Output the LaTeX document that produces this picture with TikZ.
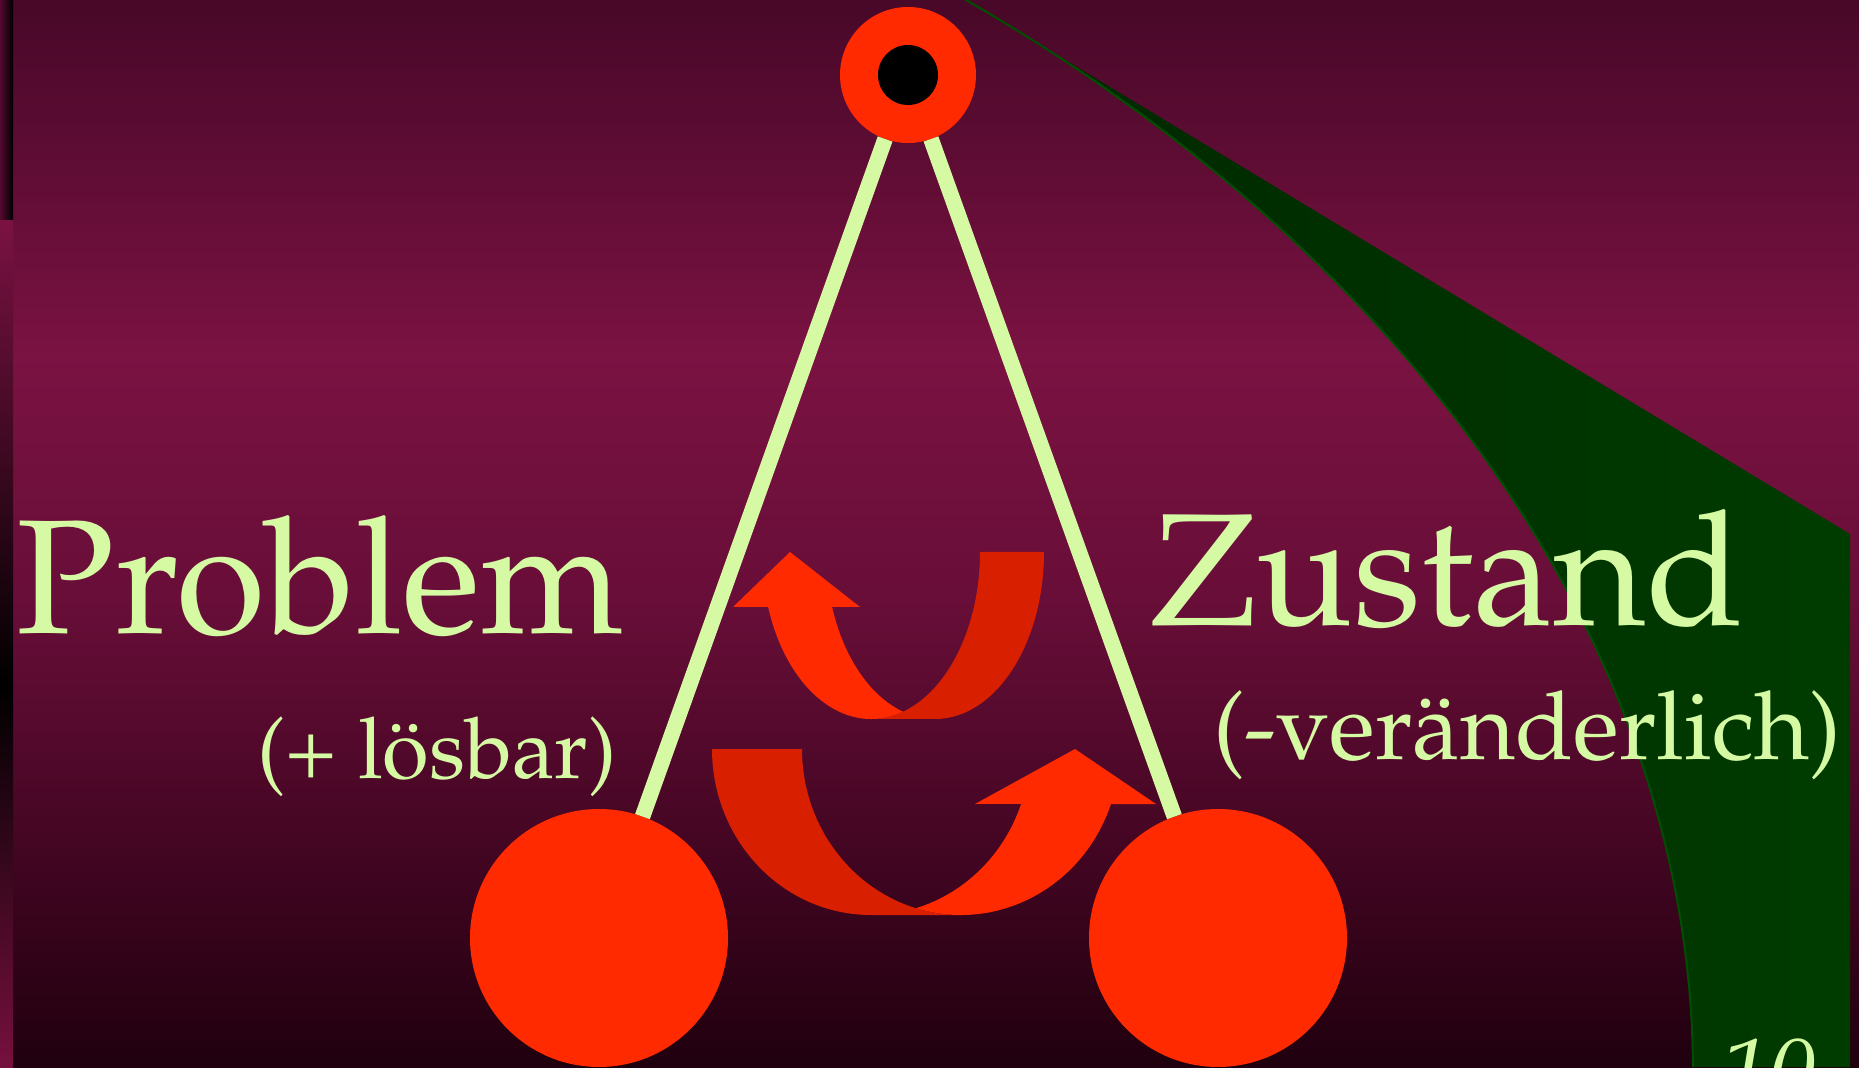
\documentclass[tikz,border=0pt]{standalone}
\usepackage[T1]{fontenc}
\renewcommand{\rmdefault}{ppl}
\definecolor{bgA}{RGB}{72,8,40}
\definecolor{bgB}{RGB}{122,18,66}
\definecolor{bgC}{RGB}{104,14,56}
\definecolor{bgD}{RGB}{70,6,36}
\definecolor{bgE}{RGB}{32,0,14}
\definecolor{stripA}{RGB}{84,10,46}
\definecolor{stripB}{RGB}{118,16,62}
\definecolor{grnA}{RGB}{0,38,0}
\definecolor{grnB}{RGB}{0,60,0}
\definecolor{grnEdge}{RGB}{0,78,0}
\definecolor{redA}{RGB}{255,42,0}
\definecolor{redB}{RGB}{216,32,0}
\definecolor{lgreen}{RGB}{214,250,164}
\tikzset{
  ball/.style={circle, fill=redA, inner sep=0pt, outer sep=0pt},
  stick/.style={draw=lgreen, line width=7.8pt},
  txt/.style={text=lgreen, inner sep=0pt, outer sep=0pt, anchor=base west}
}
\begin{document}
\begin{tikzpicture}[x=0.5pt,y=0.5pt]
\useasboundingbox (0,0) rectangle (1859,1067);
\clip (0,0) rectangle (1859,1067);
% background gradient
\shade[top color=bgA, bottom color=bgB] (0,711) rectangle (1859,1067);
\shade[top color=bgB, bottom color=bgC] (0,466.5) rectangle (1859,711.5);
\shade[top color=bgC, bottom color=bgD] (0,236.5) rectangle (1859,467);
\shade[top color=bgD, bottom color=bgE] (0,0) rectangle (1859,237);
% left strip
\shade[left color=stripA, right color=black] (0,846) rectangle (13,1067);
\shade[top color=bgB, bottom color=black] (0,380) rectangle (13,846);
\shade[top color=black, bottom color=stripB] (0,0) rectangle (13,380);
% green shape
\shade[left color=grnA, right color=grnB]
  (966,1067) -- (1850,533) -- (1850,0) -- (1693,0)
  .. controls (1690,427) and (1400,817) .. (966,1067) -- cycle;
\draw[grnEdge, line width=1pt] (1693,0) .. controls (1690,427) and (1400,817) .. (966,1067);
% circles
\node[ball, minimum size=68pt] (top) at (908,992) {};
\node[circle, fill=black, inner sep=0pt, minimum size=30pt] (eye) at (top.center) {};
\node[ball, minimum size=129pt] (pl) at (599,129) {};
\node[ball, minimum size=129pt] (pr) at (1218,129) {};
% sticks
\draw[stick] (top) -- (pl);
\draw[stick] (top) -- (pr);
% upper U-turn arrow
\fill[redB] (1044,515) arc[start angle=0,end angle=-90,x radius=109,y radius=167]
  -- (871,348) arc[start angle=-90,end angle=0,x radius=109,y radius=167] -- cycle;
\fill[redA] (902.9,355.3) arc[start angle=287,end angle=199.2,x radius=109,y radius=167]
  -- (733,460) -- (790,515) -- (860,460) -- (832.1,460)
  arc[start angle=199.2,end angle=253,x radius=109,y radius=167] -- cycle;
% lower U-turn arrow
\fill[redB] (712,318) arc[start angle=180,end angle=270,x radius=159,y radius=166]
  -- (961,152) arc[start angle=270,end angle=180,x radius=159,y radius=166] -- cycle;
\fill[redA] (916,158.8) arc[start angle=286.4,end angle=340.65,x radius=159,y radius=166]
  -- (975,263) -- (1075,318) -- (1156,263) -- (1111,263)
  arc[start angle=340.65,end angle=253.6,x radius=159,y radius=166] -- cycle;
% texts
\node[txt, font=\fontsize{81.3}{90}\selectfont] (problem) at (17,433) {Problem};
\node[txt, font=\fontsize{42.5}{48}\selectfont] (loesbar) at (257,289) {(+ l\"osbar)};
\node[txt, font=\fontsize{80}{90}\selectfont] (zustand) at (1150,441) {Zustand};
\node[txt, font=\fontsize{47.5}{56}\selectfont] (veraend) at (1213,307) {(-ver\"anderlich)};
\node[txt, font=\fontsize{47}{56}\selectfont\itshape] (pagenum) at (1722,-37) {10};
\end{tikzpicture}
\end{document}
